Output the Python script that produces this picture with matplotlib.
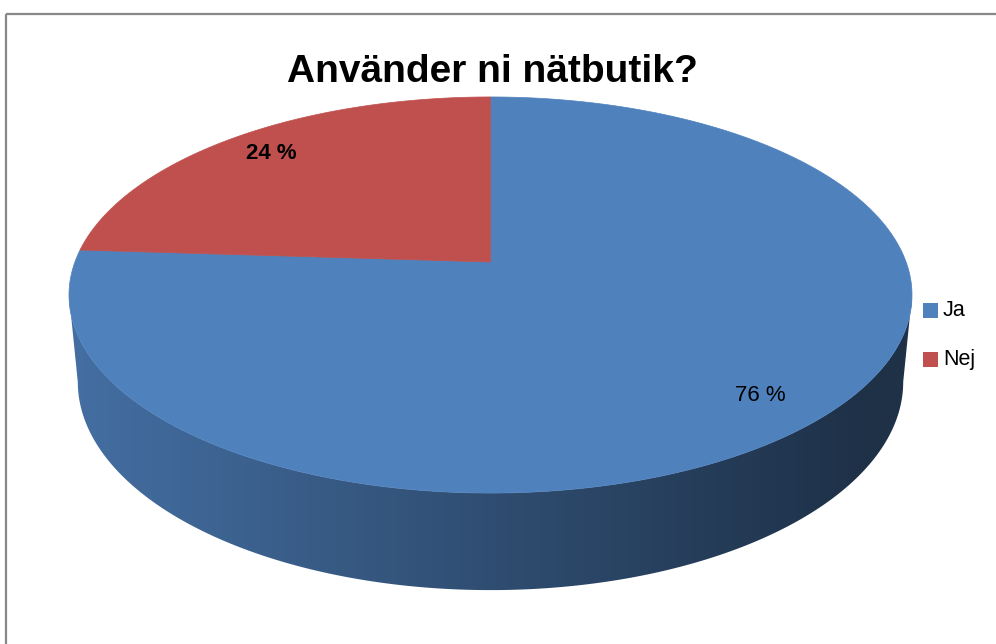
import numpy as np
import matplotlib
matplotlib.use("Agg")
import matplotlib.pyplot as plt
from matplotlib import font_manager
from matplotlib.patches import Polygon, Rectangle
from matplotlib.colors import to_rgb

# data
categories = ["Ja", "Nej"]
shares = [76, 24]
value_labels = ["76 %", "24 %"]
label_weights = ["normal", "bold"]
colors = ["#4f81bd", "#c0504d"]
title = "Använder ni nätbutik?"

# simple perspective camera for the 3d pie (pixels)
cx, cy = 490.5, 262
elev = np.radians(27.6)
dist = 5.316          # camera distance in pie radii
scale = 2209.4        # focal length in pixels
depth = 0.238         # pie thickness in radii


def project(theta_deg, r=1.0, z=0.0):
    t = np.radians(np.asarray(theta_deg, dtype=float))
    px, py = r * np.cos(t), r * np.sin(t)
    d = dist + py * np.cos(elev) - z * np.sin(elev)
    X = scale * px / d
    Y = scale * (py * np.sin(elev) + z * np.cos(elev)) / d
    return np.column_stack([cx + X, cy - Y])


def arc(t1, t2, z=0.0, n=240):
    return project(np.linspace(t1, t2, n), 1.0, z)


fig = plt.figure(figsize=(9.96, 6.44), dpi=100)
ax = fig.add_axes([0, 0, 1, 1])
ax.set_xlim(0, 996)
ax.set_ylim(644, 0)
ax.axis("off")

# outer frame
ax.add_patch(Rectangle((6, 14), 1000, 640, fill=False, edgecolor="#888888", lw=1.6))

# slice angles, starting at 12 o'clock and going clockwise
start = 90.0
wedges = []
for share in shares:
    t1 = start - 360.0 * share / 100
    wedges.append((t1, start))
    start = t1

# silhouette angles (widest points) of top and bottom rims
phi_top = np.degrees(np.arcsin(np.cos(elev) / dist))
phi_bot = np.degrees(np.arcsin(np.cos(elev) / (dist + depth * np.sin(elev))))

# side walls, only the front is visible
x0, x1 = cx - 430, cx + 430
for (t1, t2), col in zip(wedges, colors):
    for off in (0, 360, -360):
        lo, hi = t1 + off, t2 + off
        lo_t, hi_t = max(lo, 180 + phi_top), min(hi, 360 - phi_top)
        lo_b, hi_b = max(lo, 180 + phi_bot), min(hi, 360 - phi_bot)
        if hi_t <= lo_t:
            continue
        upper = arc(lo_t, hi_t)
        lower = arc(hi_b, lo_b, z=-depth)
        poly = Polygon(np.vstack([upper, lower]), closed=True,
                       facecolor="none", edgecolor="none")
        ax.add_patch(poly)
        xs = np.linspace(x0, x1, 400)
        fac = np.interp(xs, [cx - 421, cx, cx + 370, cx + 421],
                        [0.86, 0.6, 0.38, 0.38])
        grad = np.array(to_rgb(col))[None, None, :] * fac[None, :, None]
        im = ax.imshow(grad, extent=(x0, x1, 600, 250), aspect="auto",
                       interpolation="bilinear", zorder=1)
        im.set_clip_path(poly)

# top face
for (t1, t2), col in zip(wedges, colors):
    pts = np.vstack([[cx, cy], arc(t1, t2)])
    ax.add_patch(Polygon(pts, closed=True, facecolor=col, edgecolor=col,
                         lw=0.5, zorder=2))

# value labels
for (t1, t2), lab, w in zip(wedges, value_labels, label_weights):
    lx, ly = project((t1 + t2) / 2, 0.85)[0]
    ax.text(lx, ly, lab, ha="center", va="center", fontsize=16, fontweight=w,
            family="Liberation Sans", color="black", zorder=3)

# title (narrow bold face if installed)
installed = {f.name for f in font_manager.fontManager.ttflist}
if "Liberation Sans Narrow" in installed:
    ax.text(492, 86, title, ha="center", va="baseline", fontsize=34,
            fontweight="bold", family="Liberation Sans Narrow", color="black")
else:
    ax.text(492, 82, title, ha="center", va="baseline", fontsize=28,
            fontweight="bold", family="Liberation Sans", color="black")

# legend
for i, (cat, col) in enumerate(zip(categories, colors)):
    y = 310 + i * 49
    ax.add_patch(Rectangle((923, y - 7.5), 15, 15, facecolor=col, edgecolor="none"))
    ax.text(943, y, cat, ha="left", va="center", fontsize=15.5,
            family="Liberation Sans", color="black")

plt.savefig("out.png", dpi=100)
